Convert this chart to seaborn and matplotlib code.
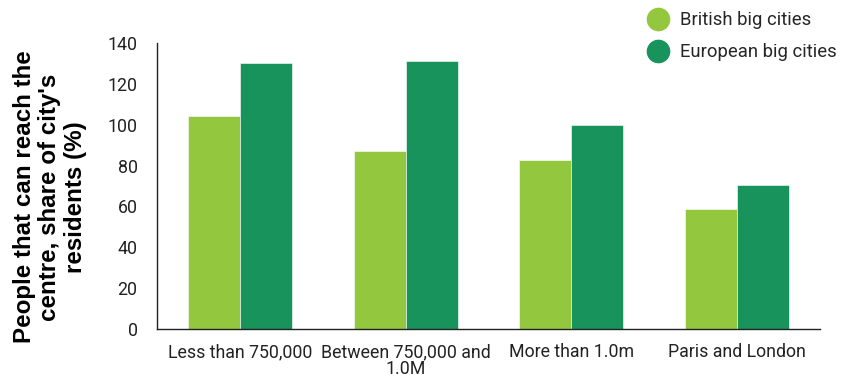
import matplotlib
matplotlib.use("Agg")
import matplotlib.pyplot as plt
from matplotlib.lines import Line2D
import seaborn as sns
import pandas as pd

categories = ["Less than 750,000", "Between 750,000 and\n1.0M", "More than 1.0m", "Paris and London"]
british = [104.5, 87, 82.5, 58.5]
european = [130, 131, 100, 70.5]
series_names = ["British big cities", "European big cities"]
colors = ["#93C83E", "#17935B"]
y_title = "People that can reach the\ncentre, share of city's\nresidents (%)"

df = pd.DataFrame({
    "category": categories * 2,
    "value": british + european,
    "series": [series_names[0]] * 4 + [series_names[1]] * 4,
})

sns.set_theme(style="white")
plt.rcParams["font.family"] = ["Roboto", "DejaVu Sans"]

fig = plt.figure(figsize=(8.42, 3.78), dpi=100)
ax = fig.add_axes([157 / 842, 1 - 329 / 378, (820 - 157) / 842, (329 - 43) / 378])

sns.barplot(data=df, x="category", y="value", hue="series", palette=colors,
            width=0.627, gap=0, saturation=1, ax=ax, legend=False,
            edgecolor="white", linewidth=0.4)

ax.set_xlim(-0.5, 3.5)
ax.set_ylim(0, 140)
ax.set_yticks(range(0, 141, 20))
ax.set_xlabel("")
ax.set_ylabel("")
ax.tick_params(axis="both", length=0, labelsize=12.8, colors="#222222")
ax.tick_params(axis="x", pad=10)
ax.tick_params(axis="y", pad=14)
for lbl in ax.get_xticklabels():
    lbl.set_linespacing(0.95)

# Rotated, centred y-axis title placed in figure coordinates
fig.text(50 / 842, 1 - 197 / 378, y_title, rotation=90, ha="center", va="center",
         multialignment="center", fontsize=17.4, fontweight="bold",
         family=["Liberation Sans", "DejaVu Sans"], linespacing=1.15, color="black")

sns.despine(ax=ax, top=True, right=True)
for s in ["left", "bottom"]:
    ax.spines[s].set_color("#222222")
    ax.spines[s].set_linewidth(1.0)

handles = [Line2D([0], [0], marker="o", linestyle="", markersize=16,
                  markerfacecolor=c, markeredgecolor=c) for c in colors]
fig.legend(handles, series_names, loc="upper left", bbox_to_anchor=(640 / 842, 1 - 4 / 378),
           frameon=False, fontsize=13.3, handletextpad=0.55, labelspacing=0.75,
           borderaxespad=0.0, handlelength=1.2)

fig.savefig("out.png", dpi=100)
